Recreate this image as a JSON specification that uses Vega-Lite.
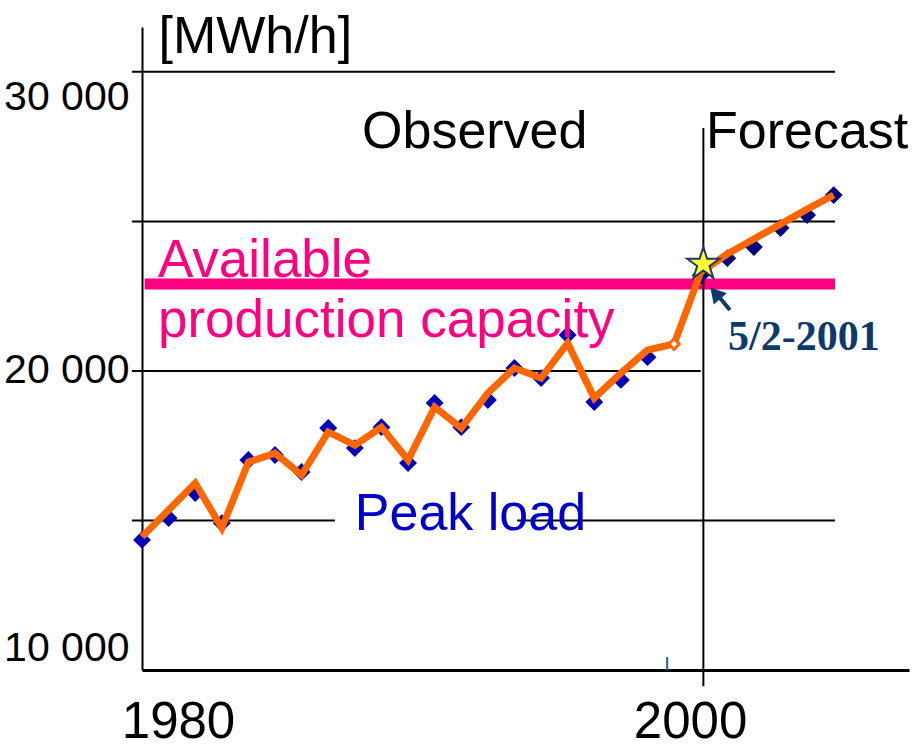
{
  "$schema": "https://vega.github.io/schema/vega-lite/v6.json",
  "width": 767,
  "height": 643,
  "autosize": {"type": "none"},
  "padding": {"left": 142, "top": 27, "right": 9, "bottom": 78},
  "background": "white",
  "config": {"view": {"stroke": null}, "font": "Liberation Sans"},
  "data": {"values": [{}]},
  "datasets": {
    "peak": [
      {"year": 1980, "load": 14350, "phase": "Observed"},
      {"year": 1981, "load": 15080, "phase": "Observed"},
      {"year": 1982, "load": 15920, "phase": "Observed"},
      {"year": 1983, "load": 14910, "phase": "Observed"},
      {"year": 1984, "load": 17020, "phase": "Observed"},
      {"year": 1985, "load": 17190, "phase": "Observed"},
      {"year": 1986, "load": 16620, "phase": "Observed"},
      {"year": 1987, "load": 18090, "phase": "Observed"},
      {"year": 1988, "load": 17420, "phase": "Observed"},
      {"year": 1989, "load": 18120, "phase": "Observed"},
      {"year": 1990, "load": 16920, "phase": "Observed"},
      {"year": 1991, "load": 18930, "phase": "Observed"},
      {"year": 1992, "load": 18120, "phase": "Observed"},
      {"year": 1993, "load": 19030, "phase": "Observed"},
      {"year": 1994, "load": 20100, "phase": "Observed"},
      {"year": 1995, "load": 19760, "phase": "Observed"},
      {"year": 1996, "load": 21200, "phase": "Observed"},
      {"year": 1997, "load": 18960, "phase": "Observed"},
      {"year": 1998, "load": 19700, "phase": "Observed"},
      {"year": 1999, "load": 20460, "phase": "Observed"},
      {"year": 2001, "load": 23200, "phase": "Forecast"},
      {"year": 2002, "load": 23770, "phase": "Forecast"},
      {"year": 2003, "load": 24140, "phase": "Forecast"},
      {"year": 2004, "load": 24780, "phase": "Forecast"},
      {"year": 2005, "load": 25210, "phase": "Forecast"},
      {"year": 2006, "load": 25880, "phase": "Forecast"}
    ],
    "trend": [
      {"year": 1980, "load": 14450},
      {"year": 1981, "load": 15350},
      {"year": 1982, "load": 16250},
      {"year": 1983, "load": 14750},
      {"year": 1984, "load": 16950},
      {"year": 1985, "load": 17250},
      {"year": 1986, "load": 16520},
      {"year": 1987, "load": 17960},
      {"year": 1988, "load": 17520},
      {"year": 1989, "load": 18120},
      {"year": 1990, "load": 17020},
      {"year": 1991, "load": 18790},
      {"year": 1992, "load": 18090},
      {"year": 1993, "load": 19260},
      {"year": 1994, "load": 20100},
      {"year": 1995, "load": 19760},
      {"year": 1996, "load": 20930},
      {"year": 1997, "load": 19090},
      {"year": 1998, "load": 19930},
      {"year": 1999, "load": 20700},
      {"year": 2000, "load": 20900},
      {"year": 2001, "load": 23300},
      {"year": 2002, "load": 23910},
      {"year": 2003, "load": 24410},
      {"year": 2004, "load": 24910},
      {"year": 2005, "load": 25410},
      {"year": 2006, "load": 25880}
    ],
    "lines": [
      {"level": 30000, "start": 1979.62, "end": 2006.05},
      {"level": 25000, "start": 1979.62, "end": 2006.05},
      {"level": 20000, "start": 1979.62, "end": 2001.0},
      {"level": 15000, "start": 1979.62, "end": 1987.25},
      {"level": 15000, "start": 1994.1, "end": 2006.05}
    ]
  },
  "layer": [
    {
      "data": {"name": "lines"},
      "mark": {"type": "rule", "color": "black", "strokeWidth": 2},
      "encoding": {
        "x": {
          "field": "start", "type": "quantitative",
          "scale": {"domain": [1980, 2008.83], "nice": false, "zero": false},
          "axis": {
            "values": [1980, 2000], "format": "d", "title": null, "grid": false, "ticks": false,
            "domainColor": "black", "domainWidth": 3,
            "labelFontSize": 51, "labelColor": "black", "labelFlush": false, "labelAlign": "center",
            "labelBaseline": "alphabetic", "labelPadding": 67,
            "labelOffset": {"condition": {"test": "datum.value == 1980", "value": 36}, "value": 16}
          }
        },
        "x2": {"field": "end"},
        "y": {
          "field": "level", "type": "quantitative",
          "scale": {"domain": [10000, 31500], "nice": false, "zero": false},
          "axis": {
            "values": [10000, 20000, 30000], "grid": false, "ticks": false,
            "labelExpr": "replace(format(datum.value, ','), ',', ' ')",
            "domainColor": "black", "domainWidth": 2,
            "labelFontSize": 41, "labelColor": "black",
            "labelPadding": 13, "labelBaseline": "middle",
            "labelOffset": {"condition": [{"test": "datum.value == 30000", "value": 26}, {"test": "datum.value == 10000", "value": -22}], "value": 0},
            "title": "[MWh/h]", "titleAngle": 0, "titleAlign": "left", "titleBaseline": "alphabetic",
            "titleX": 16, "titleY": 25, "titleFontSize": 52,
            "titleFontWeight": "normal", "titleColor": "black"
          }
        }
      }
    },
    {
      "mark": {"type": "rule", "color": "#FF0080", "strokeWidth": 11},
      "encoding": {
        "x": {"datum": 1980.1, "type": "quantitative", "scale": {"domain": [1980, 2008.83], "nice": false, "zero": false}},
        "x2": {"datum": 2006.05},
        "y": {"datum": 22905, "type": "quantitative", "scale": {"domain": [10000, 31500], "nice": false, "zero": false}}
      }
    },
    {
      "mark": {"type": "rule", "color": "black", "strokeWidth": 2},
      "encoding": {
        "x": {"datum": 2001.1, "type": "quantitative", "scale": {"domain": [1980, 2008.83], "nice": false, "zero": false}},
        "y": {"datum": 28120, "type": "quantitative", "scale": {"domain": [10000, 31500], "nice": false, "zero": false}},
        "y2": {"datum": 9460}
      }
    },
    {
      "mark": {"type": "rule", "color": "#2060A0", "strokeWidth": 2},
      "encoding": {
        "x": {"datum": 1999.74, "type": "quantitative", "scale": {"domain": [1980, 2008.83], "nice": false, "zero": false}},
        "y": {"datum": 10430, "type": "quantitative", "scale": {"domain": [10000, 31500], "nice": false, "zero": false}},
        "y2": {"datum": 10000}
      }
    },
    {
      "data": {"name": "peak"},
      "mark": {"type": "point", "shape": "diamond", "filled": true, "size": 320, "opacity": 1},
      "encoding": {
        "x": {"field": "year", "type": "quantitative", "scale": {"domain": [1980, 2008.83], "nice": false, "zero": false}},
        "y": {"field": "load", "type": "quantitative", "scale": {"domain": [10000, 31500], "nice": false, "zero": false}},
        "color": {"field": "phase", "type": "nominal", "scale": {"domain": ["Observed", "Forecast"], "range": ["#0000BB", "#000080"]}, "legend": null}
      }
    },
    {
      "data": {"name": "trend"},
      "mark": {"type": "line", "color": "#FF6600", "strokeWidth": 7, "strokeJoin": "miter"},
      "encoding": {
        "x": {"field": "year", "type": "quantitative", "scale": {"domain": [1980, 2008.83], "nice": false, "zero": false}},
        "y": {"field": "load", "type": "quantitative", "scale": {"domain": [10000, 31500], "nice": false, "zero": false}}
      }
    },
    {
      "data": {"name": "trend"},
      "transform": [{"filter": "datum.year == 2000"}],
      "mark": {"type": "point", "shape": "diamond", "filled": true, "fill": "white", "stroke": "#FF6600", "strokeWidth": 3, "size": 110, "opacity": 1},
      "encoding": {
        "x": {"field": "year", "type": "quantitative", "scale": {"domain": [1980, 2008.83], "nice": false, "zero": false}},
        "y": {"field": "load", "type": "quantitative", "scale": {"domain": [10000, 31500], "nice": false, "zero": false}}
      }
    },
    {
      "mark": {"type": "point", "shape": "M0,-1L0.2245,-0.309L0.951,-0.309L0.363,0.118L0.588,0.809L0,0.382L-0.588,0.809L-0.363,0.118L-0.951,-0.309L-0.2245,-0.309Z", "filled": true, "fill": "#FFFF33", "stroke": "#1F3864", "strokeWidth": 2, "size": 1150, "opacity": 1},
      "encoding": {
        "x": {"datum": 2001.1, "type": "quantitative", "scale": {"domain": [1980, 2008.83], "nice": false, "zero": false}},
        "y": {"datum": 23574, "type": "quantitative", "scale": {"domain": [10000, 31500], "nice": false, "zero": false}}
      }
    },
    {
      "mark": {"type": "rule", "color": "#0D3A6B", "strokeWidth": 4},
      "encoding": {
        "x": {"datum": 2001.6, "type": "quantitative", "scale": {"domain": [1980, 2008.83], "nice": false, "zero": false}},
        "x2": {"datum": 2002.1},
        "y": {"datum": 22571, "type": "quantitative", "scale": {"domain": [10000, 31500], "nice": false, "zero": false}},
        "y2": {"datum": 22036}
      }
    },
    {
      "mark": {"type": "point", "shape": "triangle-up", "filled": true, "color": "#0D3A6B", "size": 300, "angle": -41, "opacity": 1},
      "encoding": {
        "x": {"datum": 2001.55, "type": "quantitative", "scale": {"domain": [1980, 2008.83], "nice": false, "zero": false}},
        "y": {"datum": 22600, "type": "quantitative", "scale": {"domain": [10000, 31500], "nice": false, "zero": false}}
      }
    },
    {
      "mark": {"type": "text", "text": "Observed", "align": "left", "baseline": "alphabetic", "font": "Liberation Sans", "fontSize": 52, "color": "black"},
      "encoding": {
        "x": {"datum": 1988.27, "type": "quantitative", "scale": {"domain": [1980, 2008.83], "nice": false, "zero": false}},
        "y": {"datum": 27452, "type": "quantitative", "scale": {"domain": [10000, 31500], "nice": false, "zero": false}}
      }
    },
    {
      "mark": {"type": "text", "text": "Forecast", "align": "left", "baseline": "alphabetic", "font": "Liberation Sans", "fontSize": 52, "color": "black"},
      "encoding": {
        "x": {"datum": 2001.2, "type": "quantitative", "scale": {"domain": [1980, 2008.83], "nice": false, "zero": false}},
        "y": {"datum": 27452, "type": "quantitative", "scale": {"domain": [10000, 31500], "nice": false, "zero": false}}
      }
    },
    {
      "mark": {"type": "text", "text": "Available", "align": "left", "baseline": "alphabetic", "font": "Liberation Sans", "fontSize": 53, "color": "#FF0080"},
      "encoding": {
        "x": {"datum": 1980.6, "type": "quantitative", "scale": {"domain": [1980, 2008.83], "nice": false, "zero": false}},
        "y": {"datum": 23139, "type": "quantitative", "scale": {"domain": [10000, 31500], "nice": false, "zero": false}}
      }
    },
    {
      "mark": {"type": "text", "text": "production capacity", "align": "left", "baseline": "alphabetic", "font": "Liberation Sans", "fontSize": 53, "color": "#FF0080"},
      "encoding": {
        "x": {"datum": 1980.6, "type": "quantitative", "scale": {"domain": [1980, 2008.83], "nice": false, "zero": false}},
        "y": {"datum": 21133, "type": "quantitative", "scale": {"domain": [10000, 31500], "nice": false, "zero": false}}
      }
    },
    {
      "mark": {"type": "text", "text": "Peak load", "align": "left", "baseline": "alphabetic", "font": "Liberation Sans", "fontSize": 52, "color": "#0000CC"},
      "encoding": {
        "x": {"datum": 1988.0, "type": "quantitative", "scale": {"domain": [1980, 2008.83], "nice": false, "zero": false}},
        "y": {"datum": 14681, "type": "quantitative", "scale": {"domain": [10000, 31500], "nice": false, "zero": false}}
      }
    },
    {
      "mark": {"type": "text", "text": "5/2-2001", "align": "left", "baseline": "alphabetic", "font": "Liberation Serif", "fontWeight": "bold", "fontSize": 42, "color": "#0D3A6B"},
      "encoding": {
        "x": {"datum": 2002.03, "type": "quantitative", "scale": {"domain": [1980, 2008.83], "nice": false, "zero": false}},
        "y": {"datum": 20699, "type": "quantitative", "scale": {"domain": [10000, 31500], "nice": false, "zero": false}}
      }
    }
  ]
}
